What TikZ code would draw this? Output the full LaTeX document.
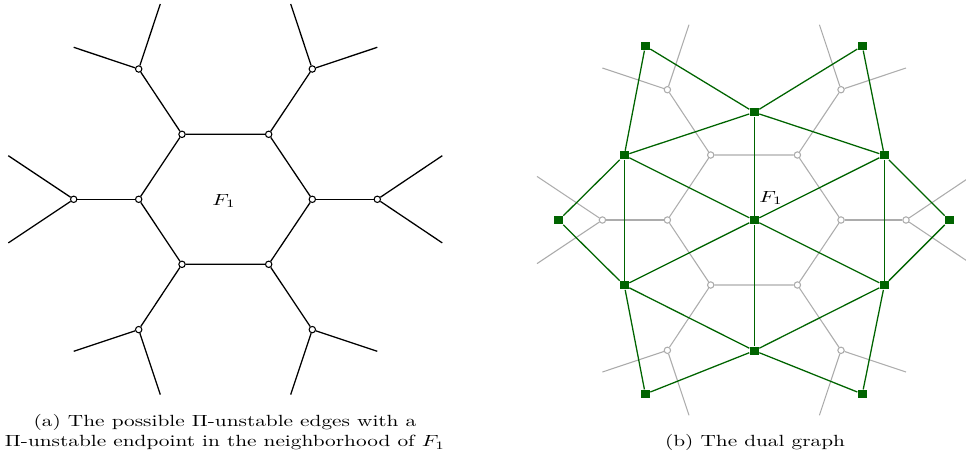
\documentclass[tikz,border=0pt]{standalone}
\usepackage{graphicx}
\definecolor{dkgreen}{RGB}{0,100,0}
\definecolor{lgray}{RGB}{172,172,172}
\newcommand\sqz[1]{\scalebox{1}[0.76]{#1}}
\newcommand\honeycomb[3]{%
  \node[#2] (#1h1) at (182,134.3) {};
  \node[#2] (#1h2) at (268.7,134.3) {};
  \node[#2] (#1h3) at (312.3,199.3) {};
  \node[#2] (#1h4) at (268.7,264.3) {};
  \node[#2] (#1h5) at (182,264.3) {};
  \node[#2] (#1h6) at (138.7,199.3) {};
  \node[#2] (#1o1) at (138.7,69) {};
  \node[#2] (#1o2) at (312.3,69) {};
  \node[#2] (#1o3) at (377.3,199.3) {};
  \node[#2] (#1o4) at (312.3,329.6) {};
  \node[#2] (#1o5) at (138.7,329.6) {};
  \node[#2] (#1o6) at (73.7,199.3) {};
  \coordinate (#1p1a) at (73.7,47.3);  \coordinate (#1p1b) at (160.3,4);
  \coordinate (#1p2a) at (377.3,47.3); \coordinate (#1p2b) at (290.7,4);
  \coordinate (#1p3a) at (442.3,155.7); \coordinate (#1p3b) at (442.3,242.9);
  \coordinate (#1p4a) at (377.3,351.3); \coordinate (#1p4b) at (290.7,394.6);
  \coordinate (#1p5a) at (73.7,351.3);  \coordinate (#1p5b) at (160.3,394.6);
  \coordinate (#1p6a) at (8.3,155.7);   \coordinate (#1p6b) at (8.3,242.9);
  \draw[#3] (#1h1) -- (#1h2) -- (#1h3) -- (#1h4) -- (#1h5) -- (#1h6) -- (#1h1);
  \foreach \i in {1,...,6}{
    \draw[#3] (#1h\i) -- (#1o\i);
    \draw[#3] (#1o\i) -- (#1p\i a);
    \draw[#3] (#1o\i) -- (#1p\i b);
  }%
}
\begin{document}
\begin{tikzpicture}[x=0.4695pt,y=-0.4695pt,
  bv/.style={circle,draw=black,fill=white,line width=0.5pt,inner sep=0pt,minimum size=3pt},
  gv/.style={circle,draw=lgray,fill=white,line width=0.5pt,inner sep=0pt,minimum size=3pt},
  be/.style={draw=black,line width=0.6pt},
  ge/.style={draw=lgray,line width=0.5pt},
  dv/.style={rectangle,fill=dkgreen,inner sep=0pt,minimum width=4.3pt,minimum height=3.9pt},
  de/.style={draw=dkgreen,line width=0.6pt},
  lab/.style={inner sep=0pt,anchor=base}]
\useasboundingbox (0,0) rectangle (966,458);
% (a)
\honeycomb{a}{bv}{be}
\node[lab] (fa) at (224,205) {\sqz{$F_1$}};
% (b)
\begin{scope}[shift={(528.7,20.7)}]
\honeycomb{b}{gv}{ge}
\end{scope}
\node[dv] (g1) at (645.3,46) {};
\node[dv] (g2) at (862.3,46) {};
\node[dv] (gt) at (754.3,112.3) {};
\node[dv] (gul) at (624.3,155.3) {};
\node[dv] (gur) at (884.3,155.3) {};
\node[dv] (gl) at (558.7,220.3) {};
\node[dv] (gc) at (754.3,220.3) {};
\node[dv] (gr) at (949.3,220.3) {};
\node[dv] (gll) at (624.3,285.3) {};
\node[dv] (glr) at (884.3,285.3) {};
\node[dv] (gb) at (754.3,350.7) {};
\node[dv] (g5) at (645.3,394) {};
\node[dv] (g6) at (862.3,394) {};
\foreach \u/\v in {gc/gt,gc/gb,gc/gul,gc/gur,gc/gll,gc/glr,
  gt/gul,gt/gur,gul/gll,gur/glr,gll/gb,glr/gb,
  g1/gt,g1/gul,g2/gt,g2/gur,gl/gul,gl/gll,gr/gur,gr/glr,
  g5/gll,g5/gb,g6/glr,g6/gb}
  \draw[de] (\u) -- (\v);
\node[lab] (fb) at (771,202) {\sqz{$F_1$}};
% captions
\node[lab] (ca1) at (225,426.7) {\sqz{(a) The possible $\Pi$-unstable edges with a}};
\node[lab] (ca2) at (225,446.7) {\sqz{$\Pi$-unstable endpoint in the neighborhood of $F_1$}};
\node[lab] (cb) at (755,446.7) {\sqz{(b) The dual graph}};
\end{tikzpicture}
\end{document}
